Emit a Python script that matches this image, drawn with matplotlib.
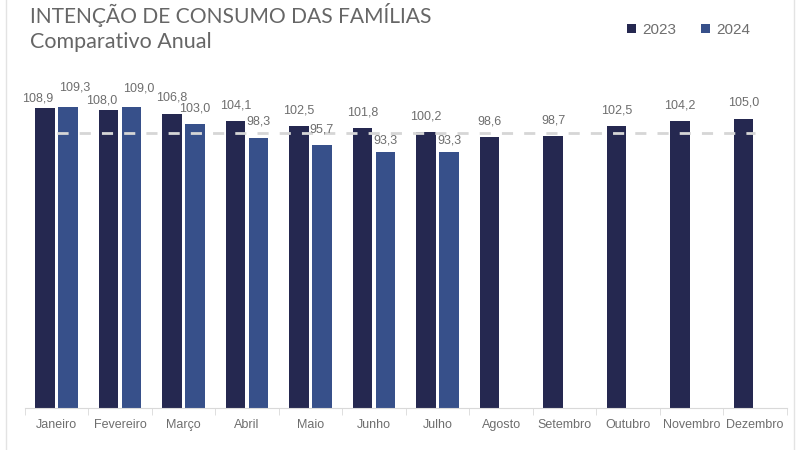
import numpy as np
import matplotlib.pyplot as plt
from matplotlib.patches import Rectangle

meses = ['Janeiro', 'Fevereiro', 'Março', 'Abril', 'Maio', 'Junho',
         'Julho', 'Agosto', 'Setembro', 'Outubro', 'Novembro', 'Dezembro']
icf_2023 = [108.9, 108.0, 106.8, 104.1, 102.5, 101.8, 100.2, 98.6, 98.7, 102.5, 104.2, 105.0]
icf_2024 = [109.3, 109.0, 103.0, 98.3, 95.7, 93.3, 93.3]
nivel_neutro = 100

cor_2023 = '#252850'
cor_2024 = '#37508a'
cinza = '#6e6e6e'

plt.rcParams['font.family'] = ['Liberation Sans', 'DejaVu Sans']

fig = plt.figure(figsize=(8, 4.5), dpi=100)
ax = fig.add_axes([0.031, 0.0927, 0.9525, 0.7375])

x = np.arange(len(meses))
w = 0.31
off = 0.18
b1 = ax.bar(x - off, icf_2023, w, color=cor_2023, label='2023', zorder=2)
x24 = x[:len(icf_2024)]
b2 = ax.bar(x24 + off, icf_2024, w, color=cor_2024, label='2024', zorder=2)

# linha de referência (100 pontos)
ax.plot(x, [nivel_neutro] * len(x), color='#d6d6d6', lw=2,
        dashes=(4, 4), zorder=3)

# rótulos de dados
fmt = lambda v: f'{v:.1f}'.replace('.', ',')
for i, v in enumerate(icf_2023):
    dx, dy = 0, 7
    if i < len(icf_2024) and abs(icf_2024[i] - v) < 3.5:
        dx, dy = -5, 2.5
    ax.annotate(fmt(v), (x[i] - off, v), xytext=(dx, dy), textcoords='offset points',
                ha='center', va='bottom', fontsize=9, color=cinza)
for i, v in enumerate(icf_2024):
    dx, dy = 0, 7
    if abs(icf_2023[i] - v) < 3.5:
        dx, dy = 5, 9.5
    elif v < 95:
        dy = 3.5
    ax.annotate(fmt(v), (x24[i] + off, v), xytext=(dx, dy), textcoords='offset points',
                ha='center', va='bottom', fontsize=9, color=cinza)

ax.set_xlim(-0.5, len(meses) - 0.5)
ax.set_ylim(2.3, 120)
ax.set_yticks([])
for s in ['left', 'right', 'top']:
    ax.spines[s].set_visible(False)
ax.spines['bottom'].set_color('#d9d9d9')
ax.set_xticks(x)
ax.set_xticklabels(meses, fontsize=9, color=cinza)
ax.tick_params(axis='x', which='major', length=0, pad=8)
ax.set_xticks(np.arange(-0.5, len(meses)), minor=True)
ax.tick_params(axis='x', which='minor', length=5, color='#d9d9d9')

fig.text(0.0375, 0.948, 'INTENÇÃO DE CONSUMO DAS FAMÍLIAS', fontsize=15.1,
         color='#666666', va='baseline', family=['Lato', 'DejaVu Sans'])
fig.text(0.0375, 0.893, 'Comparativo Anual', fontsize=15.5,
         color='#666666', va='baseline', family=['Lato', 'DejaVu Sans'])

fig.legend(handles=[b1, b2], loc='upper right', bbox_to_anchor=(0.955, 0.98),
           ncol=2, frameon=False, fontsize=11, handlelength=0.6, handleheight=0.6,
           handletextpad=0.4, columnspacing=1.6, labelcolor=cinza)

fig.patches.append(Rectangle((0.007, -0.01), 0.985, 1.02, transform=fig.transFigure,
                             fill=False, edgecolor='#e3e3e3', lw=1))

fig.savefig('out.png', dpi=100)
